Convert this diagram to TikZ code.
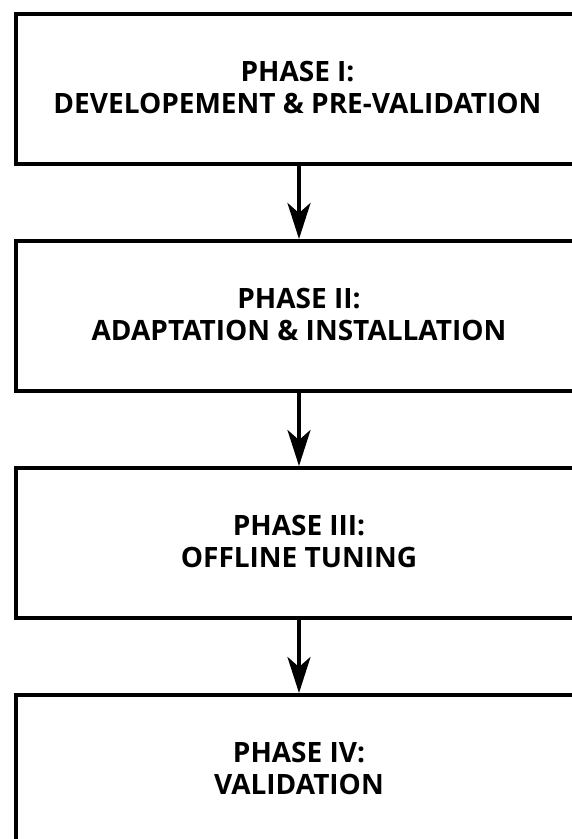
\documentclass[tikz,border=0pt]{standalone}
\usepackage{fontspec}
\setmainfont{Open Sans}
\usetikzlibrary{arrows.meta}
\begin{document}
\begin{tikzpicture}[x=1pt,y=-1pt,
  phasebox/.style={draw=black,line width=4pt,minimum width=566pt,minimum height=149.5pt,anchor=north west,inner sep=0pt},
  phasetext/.style={align=center,inner sep=0pt,font=\fontsize{28}{32.5}\selectfont\bfseries},
  flow/.style={line width=4pt,-{Stealth[length=36pt,width=23pt,inset=10pt]}}]
\useasboundingbox (0,0) rectangle (572,839);
\node[phasebox] (p1) at (14,12) {};
\node[phasebox] (p2) at (14,239) {};
\node[phasebox] (p3) at (14,466) {};
\node[phasebox] (p4) at (14,693) {};
\node[phasetext] (t1) at ([yshift=1.5pt,xshift=-1.5pt]p1.center) {PHASE I:\\DEVELOPEMENT \& PRE-VALIDATION};
\node[phasetext] (t2) at ([yshift=1.5pt]p2.center) {PHASE II:\\ADAPTATION \& INSTALLATION};
\node[phasetext] (t3) at ([yshift=1.5pt]p3.center) {PHASE III:\\OFFLINE TUNING};
\node[phasetext] (t4) at ([yshift=1.5pt]p4.center) {PHASE IV:\\VALIDATION};
\draw[flow] (p1.south) -- (p2.north);
\draw[flow] (p2.south) -- (p3.north);
\draw[flow] (p3.south) -- (p4.north);
\end{tikzpicture}
\end{document}
